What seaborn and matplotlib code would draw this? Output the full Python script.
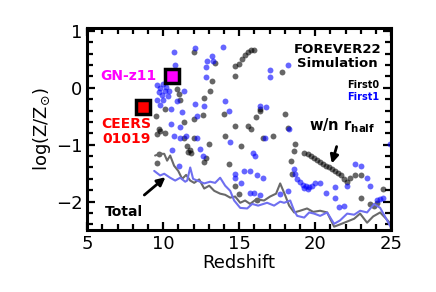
import numpy as np
import pandas as pd
import matplotlib
matplotlib.use("Agg")
import matplotlib.pyplot as plt
from matplotlib.ticker import MultipleLocator
import seaborn as sns

# FOREVER22 galaxies (redshift, log Z/Zsun)
first0_z = [12.0, 13.4, 14.7, 14.7, 13.2, 13.1, 12.7, 10.9, 11.05, 11.1, 10.1, 9.5,
            11.4, 12.0, 12.6, 14.0, 9.7, 9.8, 9.6, 10.1, 14.7, 14.1,
            15.0, 15.2, 15.4, 15.6, 15.8, 15.95, 17.8, 18.0, 16.4, 16.1, 15.6, 15.75, 18.2,
            11.4, 11.6, 11.8, 12.0, 13.0, 15.1, 14.3, 12.7, 12.8, 14.7, 15.0, 16.2,
            16.6, 17.2, 18.7, 18.6, 18.4, 18.5,
            19.3, 19.5, 19.7, 19.9, 20.1, 20.3, 20.5, 20.7, 20.9, 21.1, 21.3, 21.5,
            21.7, 21.9, 22.1, 22.3, 22.6, 23.0, 23.0, 23.6, 23.9, 24.1, 24.5,
            9.6, 9.7, 11.65, 11.75, 16.4]
first0_met = [0.63, 0.44, 0.39, 0.21, 0.12, -0.05, -0.18, -0.02, -0.11, -0.22, -0.37, -0.49,
              -0.60, -0.54, -0.47, -0.46, -0.72, -0.76, -0.81, -0.79, -0.67, -0.84,
              0.42, 0.50, 0.57, 0.63, 0.66, 0.67, 0.28, -0.46, -0.40, -0.51, -0.67, -0.72, -0.70,
              -0.88, -1.02, -1.14, -0.89, -0.98, -1.02, -1.34, -1.31, -1.23, -1.72, -1.86, -1.98,
              -0.89, -0.84, -0.98, -1.11, -1.28, -1.51,
              -1.14, -1.17, -1.20, -1.23, -1.26, -1.30, -1.33, -1.37, -1.40, -1.43, -1.47, -1.50,
              -1.54, -1.60, -1.66, -1.58, -1.54, -1.54, -1.93, -2.04, -2.07, -2.02, -1.77,
              -1.32, -1.16, -1.12, -1.10, -0.37]

first1_z = [10.72, 12.1, 13.95, 13.2, 12.9, 13.3, 12.8, 12.8, 10.8,
            9.6, 9.8, 10.0, 10.2, 9.7, 9.9, 10.1, 10.3, 9.6, 10.0, 10.4, 9.8,
            11.4, 10.9, 10.5, 11.25, 12.1, 12.7, 12.2, 14.1, 14.3, 10.5, 11.1, 10.7, 11.5,
            17.0, 18.2, 17.0, 16.8, 18.3, 16.7, 16.4,
            11.1, 12.2, 12.4, 12.6, 10.6, 11.05, 14.4, 15.9, 16.05, 14.7, 14.7, 15.1,
            15.7, 16.2, 16.6, 15.7, 15.3, 16.4, 16.0, 18.6, 18.7,
            18.8, 19.0, 19.2, 19.4, 19.6, 19.8, 20.0, 19.3, 19.5,
            20.3, 20.7, 21.3, 21.6, 21.9, 22.1, 22.6, 23.0, 23.4, 23.6, 24.1, 24.3, 24.5,
            24.9, 21.3, 17.7, 18.2]
first1_met = [0.63, 0.70, 0.72, 0.56, 0.47, 0.47, 0.37, 0.19, 0.40,
              0.05, 0.00, 0.07, 0.02, -0.08, -0.12, -0.06, -0.15, -0.22, -0.22, -0.05, -0.30,
              -0.05, -0.23, -0.37, -0.42, -0.28, -0.32, -0.49, -0.23, -0.40, -0.63, -0.68, -0.84, -0.84,
              0.32, 0.40, 0.19, -0.33, -0.72, -0.88, -0.32,
              -0.88, -0.89, -1.07, -1.19, -1.10, -1.37, -0.96, -1.14, -1.19, -1.51, -1.58, -1.67,
              -1.46, -1.54, -1.58, -1.84, -1.46, -1.89, -1.84, -1.42, -1.51,
              -1.60, -1.65, -1.70, -1.72, -1.74, -1.72, -1.68, -1.76, -1.77,
              -1.68, -1.84, -1.93, -2.10, -2.07, -1.72, -1.33, -1.37, -1.58, -1.72, -1.98, -1.95, -1.93,
              -0.98, -1.75, -1.86, -1.81]

# total metallicity tracks
total0_z = [9.47, 9.80, 10.07, 10.26, 10.46, 10.72, 10.99, 11.25, 11.51, 11.78, 12.04, 12.37,
            12.70, 13.03, 13.36, 13.75, 14.08, 14.41, 14.74, 15.07, 15.39, 15.72, 16.12, 16.64,
            17.04, 17.43, 17.70, 18.03, 18.29, 18.62, 19.01, 19.47, 19.87, 20.33, 20.79, 21.25,
            21.64, 22.11, 22.57, 22.96, 23.42, 23.82, 24.28, 24.67, 25.0]
total0_met = [-1.19, -1.16, -1.16, -1.28, -1.19, -1.37, -1.46, -1.60, -1.53, -1.63, -1.67, -1.61,
              -1.77, -1.72, -1.81, -1.86, -1.88, -1.93, -1.91, -2.02, -1.98, -2.04, -1.96, -1.98,
              -1.91, -1.86, -1.68, -1.89, -2.07, -2.19, -2.16, -2.12, -2.18, -2.16, -2.19, -2.44,
              -2.40, -2.35, -2.30, -2.21, -2.37, -2.26, -2.19, -2.30, -2.40]
total1_z = [9.41, 9.80, 10.07, 10.46, 10.79, 11.12, 11.45, 11.58, 11.78, 11.97, 12.24, 12.70,
            13.09, 13.42, 13.75, 14.08, 14.41, 14.67, 15.07, 15.53, 15.86, 16.25, 16.84, 17.30,
            17.70, 17.96, 18.36, 18.62, 18.82, 19.28, 19.61, 19.93, 20.33, 20.79, 21.25, 21.64,
            22.11, 22.57, 22.96, 23.42, 23.88, 24.28, 24.74, 25.0]
total1_met = [-1.46, -1.54, -1.51, -1.58, -1.63, -1.58, -1.65, -1.63, -1.40, -1.60, -1.63, -1.68,
              -1.65, -1.67, -1.58, -1.72, -1.81, -1.98, -2.11, -2.12, -2.04, -2.07, -2.02, -2.07,
              -2.00, -2.02, -1.98, -2.16, -2.25, -2.28, -2.19, -2.21, -2.25, -2.19, -2.39, -2.33,
              -2.21, -2.23, -2.16, -2.19, -2.04, -2.11, -2.33, -2.46]

# observed galaxies
gn_z11 = (10.6, 0.21)
ceers = (8.68, -0.33)

sns.set_style("ticks", {"axes.edgecolor": "k", "xtick.color": "k", "ytick.color": "k",
                        "text.color": "k", "axes.labelcolor": "k"})
plt.rcParams["font.family"] = ["DejaVu Sans"]

fig, ax = plt.subplots(figsize=(4.36, 2.92), dpi=100)
fig.subplots_adjust(left=0.2, right=0.897, bottom=0.212, top=0.904)

sns.lineplot(x=total0_z, y=total0_met, color="dimgray", lw=1.5, ax=ax, sort=False)
sns.lineplot(x=total1_z, y=total1_met, color="#6f6ff0", lw=1.5, ax=ax, sort=False)
sns.scatterplot(x=first0_z, y=first0_met, color="k", alpha=0.6, s=18, linewidth=0, ax=ax)
sns.scatterplot(x=first1_z, y=first1_met, color="b", alpha=0.6, s=18, linewidth=0, ax=ax)

ax.plot(*gn_z11, marker="s", ms=9.5, mfc="magenta", mec="k", mew=2.5, zorder=5)
ax.plot(*ceers, marker="s", ms=9.5, mfc="red", mec="k", mew=2.5, zorder=5)

ax.text(7.7, 0.21, "GN-z11", color="magenta", fontsize=10, fontweight="bold",
        ha="center", va="center")
ax.text(7.6, -0.77, "CEERS\n01019", color="red", fontsize=10, fontweight="bold",
        ha="center", va="center", linespacing=1.05)
ax.text(24.35, 0.55, "FOREVER22\nSimulation", color="k", fontsize=9.5, fontweight="bold",
        ha="right", va="center", multialignment="center", linespacing=1.1)
ax.text(24.2, 0.05, "First0", color="k", fontsize=7, fontweight="bold", ha="right", va="center")
ax.text(24.2, -0.17, "First1", color="b", fontsize=7, fontweight="bold", ha="right", va="center")

ax.annotate(r"w/n r$_{\bf half}$", xy=(21.1, -1.33), xytext=(21.8, -0.67),
            fontsize=10.5, fontweight="bold", ha="center", va="center",
            arrowprops=dict(arrowstyle="-|>", color="k", lw=2, shrinkA=6, shrinkB=0,
                            mutation_scale=12))
ax.annotate("Total", xy=(10.15, -1.57), xytext=(7.4, -2.19),
            fontsize=10, fontweight="bold", ha="center", va="center",
            arrowprops=dict(arrowstyle="-|>", color="k", lw=2, shrinkA=8, shrinkB=0,
                            mutation_scale=12))

ax.set_xlim(5, 25)
ax.set_ylim(-2.5, 1.05)
ax.xaxis.set_major_locator(MultipleLocator(5))
ax.xaxis.set_minor_locator(MultipleLocator(1))
ax.yaxis.set_major_locator(MultipleLocator(1))
ax.yaxis.set_minor_locator(MultipleLocator(0.2))
ax.tick_params(which="both", direction="in", top=True, right=True, labelsize=13, width=1.6,
               colors="k")
ax.tick_params(which="major", length=6)
ax.tick_params(which="minor", length=4)
for sp in ax.spines.values():
    sp.set_linewidth(2.2)
    sp.set_color("k")

ax.set_xlabel("Redshift", fontsize=13, labelpad=1)
ax.set_ylabel(r"log(Z/Z$_{\odot}$)", fontsize=13, labelpad=2)

fig.savefig("out.png", dpi=100)
